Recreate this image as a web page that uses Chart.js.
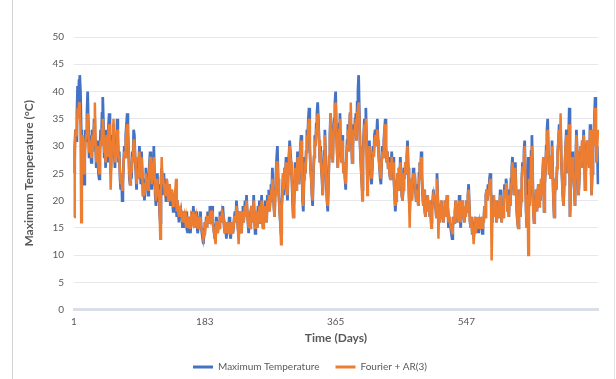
<!DOCTYPE html>
<html>
<head>
<meta charset="utf-8">
<script src="https://cdn.jsdelivr.net/npm/chart.js@4.4.1/dist/chart.umd.min.js"></script>
<style>
  body { margin: 0; background: #fff; }
  #wrap { position: relative; width: 616px; height: 379px; }
  #wrap::before { content: ''; position: absolute; left: 12px; top: 0; width: 1px; height: 379px; background: #d4d4d4; }
  #wrap::after { content: ''; position: absolute; left: 614px; top: 0; width: 1px; height: 379px; background: #e4e4e4; }
</style>
</head>
<body>
<div id="wrap"><canvas id="chart" width="616" height="379"></canvas></div>
<script>
// day index 1..730
const days = Array.from({ length: 730 }, (_, i) => String(i + 1));
const tickLabels = ['1', '183', '365', '547'];
const yTicks = [0, 5, 10, 15, 20, 25, 30, 35, 40, 45, 50];

const maxTemp = [
    25,30,33,31,36,41,38,42,43,40, 33,28,30,27,23,29,33,31,36,40,
    34,28,32,30,27,33,29,31,35,33, 30,26,31,28,25,24,29,33,31,36,
    39,34,28,31,26,33,30,27,34,36, 31,25,28,32,30,34,29,26,31,28,
    35,32,27,29,24,22,25,20,23,27, 30,28,32,34,36,33,29,24,23,26,
    24,29,27,33,32,28,25,22,26,24, 27,30,26,23,29,25,21,24,20,23,
    26,22,25,21,24,27,29,26,22,24, 28,30,25,21,19,22,25,20,23,18,
    16,24,26,21,24,25,22,23,20,24, 22,20,21,23,19,21,22,20,18,21,
    20,22,19,17,20,18,16,19,17,18, 17,15,18,16,17,15,18,16,14,17,
    16,15,14,17,18,16,19,17,15,16, 18,16,14,15,17,16,18,15,14,13,
    12,14,16,15,17,15,18,17,16,19, 17,18,19,16,15,14,13,15,17,16,
    14,16,15,18,17,16,18,19,17,15, 14,15,13,16,14,15,17,14,13,15,
    16,14,15,17,18,16,20,18,15,14, 16,18,15,14,17,19,16,18,20,17,
    21,18,16,14,17,15,18,19,17,16, 21,17,14,16,18,15,19,17,20,16,
    18,21,17,15,19,16,20,18,16,21, 19,22,18,20,23,21,26,22,19,17,
    22,25,28,30,24,21,18,16,14,19, 22,25,21,26,24,28,23,20,25,28,
    31,29,27,24,20,17,19,23,27,22, 25,29,26,23,27,30,32,26,20,18,
    24,28,25,29,33,31,35,37,30,26, 24,21,19,25,28,32,30,34,36,38,
    35,31,27,30,26,24,21,25,29,33, 28,23,20,18,23,28,32,36,31,30,
    27,33,35,38,40,33,29,26,30,34, 36,30,27,32,28,25,27,24,22,28,
    31,34,29,33,36,34,31,27,30,34, 32,35,36,31,38,40,43,36,30,27,
    24,22,28,32,35,33,37,31,25,27, 28,31,27,24,23,26,30,28,32,33,
    30,32,35,31,28,26,24,23,27,30, 28,31,33,35,30,27,29,26,28,25,
    24,25,29,26,28,24,21,18,20,23, 25,22,26,24,28,25,21,20,22,26,
    24,27,25,28,31,26,21,18,22,24, 20,23,26,24,25,22,20,23,21,19,
    25,27,24,29,25,21,19,22,18,17, 20,19,21,18,20,17,19,16,18,20,
    22,20,21,19,17,25,21,17,19,16, 18,20,17,19,16,18,20,17,19,21,
    18,15,17,16,15,14,13,15,17,16, 18,20,17,19,16,18,21,17,15,19,
    20,17,18,16,19,17,20,18,21,23, 19,16,15,17,14,16,13,15,17,14,
    16,15,17,14,16,15,17,16,14,17, 16,19,17,21,22,20,23,21,24,25,
    22,18,16,19,21,17,20,18,16,19, 17,20,19,22,18,16,19,17,20,23,
    21,24,23,18,20,17,22,19,24,26, 28,25,21,24,27,22,18,16,15,19,
    22,17,20,24,27,26,29,31,24,18, 15,21,28,24,19,23,29,32,26,18,
    16,20,19,22,18,21,23,19,22,20, 24,21,25,28,18,23,26,30,33,35,
    29,25,27,24,28,31,25,20,17,21, 24,22,26,29,31,34,30,33,27,24,
    21,19,23,27,30,33,29,25,31,37, 17,22,26,29,24,25,22,19,27,33,
    29,25,21,24,28,30,26,31,27,33, 29,22,25,28,31,27,30,26,34,29,
    21,25,33,30,35,39,33,27,30,23
];

// Fourier + AR(3) model values
const fourierAR = [
    17,27,33,32,33,37,35,38,36,34, 16,27,32,29,25,28,31,32,33,36,
    33,29,31,30,28,32,29,31,34,38, 31,27,30,28,26,25,28,31,30,33,
    35,33,29,30,27,32,30,28,33,34, 30,22,27,31,30,35,29,27,30,28,
    33,31,28,28,25,23,25,22,24,27, 29,28,31,33,34,32,29,25,23,26,
    25,28,27,31,31,28,26,23,25,24, 26,29,26,24,28,25,21,23,21,23,
    25,22,24,22,24,26,28,26,23,24, 27,28,25,22,20,22,24,21,22,19,
    13,22,28,23,24,24,22,23,21,24, 22,20,21,23,20,21,22,20,19,21,
    20,22,24,18,20,18,17,19,17,18, 17,16,18,16,17,16,17,16,15,17,
    16,15,15,17,17,16,18,17,15,16, 17,16,15,15,17,16,17,15,15,14,
    13,14,16,15,16,15,17,17,16,18, 17,18,18,16,15,14,14,12,16,16,
    14,16,15,17,17,16,18,18,17,15, 14,15,14,16,14,15,16,14,14,15,
    16,14,15,17,17,16,19,18,15,12, 15,18,15,14,17,18,16,18,19,17,
    20,18,16,15,17,15,18,19,17,16, 20,17,15,16,18,15,18,17,19,16,
    18,20,17,15,19,16,19,18,16,20, 19,21,18,20,22,21,24,22,19,17,
    21,24,27,27,24,21,18,16,12,19, 21,25,22,26,24,27,23,21,25,28,
    30,28,27,24,21,17,19,23,26,22, 25,28,26,23,27,30,31,26,21,19,
    24,27,25,29,32,31,34,35,30,26, 24,21,20,25,28,31,30,33,34,36,
    34,31,27,29,26,24,21,25,28,32, 28,23,20,19,23,28,31,36,31,30,
    27,32,34,37,38,33,29,26,30,33, 35,30,27,31,28,25,27,24,23,28,
    30,33,29,33,36,38,31,27,30,33, 32,34,35,31,36,37,38,35,30,27,
    24,20,27,31,34,33,35,31,21,27, 28,30,27,25,24,26,29,28,31,32,
    30,31,33,31,28,26,25,24,27,29, 28,30,33,34,30,27,29,26,27,25,
    24,25,28,26,27,24,21,19,20,23, 25,22,26,24,27,25,21,20,22,25,
    24,27,25,28,30,26,21,15,22,24, 20,23,25,24,25,22,20,22,21,19,
    24,27,24,28,25,21,19,22,18,17, 20,19,21,18,20,17,18,15,18,20,
    21,20,21,19,17,24,21,13,19,16, 18,20,17,19,16,18,20,17,19,21,
    18,16,17,16,15,15,14,15,17,16, 18,20,17,19,16,18,20,17,16,19,
    20,17,18,16,19,17,20,18,21,22, 19,16,15,17,14,15,12,15,17,14,
    16,15,17,15,16,15,17,16,15,17, 16,19,17,21,22,20,22,21,23,24,
    22,9,16,19,21,17,20,18,16,19,  17,20,19,21,18,16,19,17,20,22,
    21,23,23,18,20,17,21,19,23,25, 27,25,21,24,26,22,18,16,15,19,
    22,17,20,24,26,26,28,30,24,18, 15,21,10,24,19,23,28,30,26,18,
    16,20,19,22,18,21,23,19,22,20, 24,21,25,28,18,23,26,29,32,33,
    29,25,27,24,28,30,25,20,17,21, 24,22,26,29,31,33,30,36,27,24,
    21,19,23,27,30,32,29,25,30,34, 17,22,26,28,24,25,22,19,27,32,
    29,25,21,24,28,30,26,31,27,32, 29,22,25,28,31,27,30,26,33,29,
    21,25,33,30,34,37,33,27,30,33
];

if (maxTemp.length !== days.length || fourierAR.length !== days.length) {
    throw new Error('length mismatch ' + maxTemp.length + ' ' + fourierAR.length);
}

const textColor = '#595959';
const font = 'Lato';

new Chart(document.getElementById('chart').getContext('2d'), {
    type: 'line',
    data: {
        labels: days,
        datasets: [{
            label: 'Maximum Temperature',
            data: maxTemp,
            borderColor: '#4472c4',
            backgroundColor: '#4472c4',
            borderWidth: 2.75,
            pointRadius: 0,
            tension: 0,
            order: 1
        }, {
            label: 'Fourier + AR(3)',
            data: fourierAR,
            borderColor: '#ed7d31',
            backgroundColor: '#ed7d31',
            borderWidth: 2.5,
            pointRadius: 0,
            tension: 0,
            order: 0
        }]
    },
    options: {
        responsive: false,
        animation: false,
        events: [],
        layout: { padding: { left: 22, right: 18, top: 37, bottom: -3 } },
        scales: {
            x: {
                grid: { display: false },
                border: { display: true, color: '#dadee6', width: 3 },
                ticks: {
                    autoSkip: false,
                    maxRotation: 0,
                    color: textColor,
                    font: { family: font, size: 10 },
                    padding: -2,
                    callback: (v, i) => tickLabels.includes(days[i]) ? days[i] : ''
                },
                title: {
                    display: true,
                    text: 'Time (Days)',
                    color: textColor,
                    font: { family: font, size: 12, weight: 'bold' },
                    padding: { top: 5, bottom: 1 }
                }
            },
            y: {
                min: 0,
                max: 50,
                afterBuildTicks: s => { s.ticks = yTicks.map(v => ({ value: v })); },
                grid: { color: '#e8e8ec', lineWidth: 1, drawTicks: false },
                border: { display: false },
                ticks: {
                    color: textColor,
                    font: { family: font, size: 10 },
                    padding: 10
                },
                title: {
                    display: true,
                    text: 'Maximum Temperature (°C)',
                    color: textColor,
                    font: { family: font, size: 12, weight: 'bold' },
                    padding: { top: 0, bottom: 6 }
                }
            }
        },
        plugins: {
            tooltip: { enabled: false },
            legend: {
                position: 'bottom',
                labels: {
                    boxWidth: 20,
                    boxHeight: 3,
                    color: textColor,
                    font: { family: font, size: 10 },
                    padding: 16,
                    sort: (a, b) => a.datasetIndex - b.datasetIndex,
                    generateLabels: chart => Chart.defaults.plugins.legend.labels.generateLabels(chart)
                        .map(item => Object.assign(item, { lineWidth: 0 }))
                }
            }
        }
    }
});
</script>
</body>
</html>
